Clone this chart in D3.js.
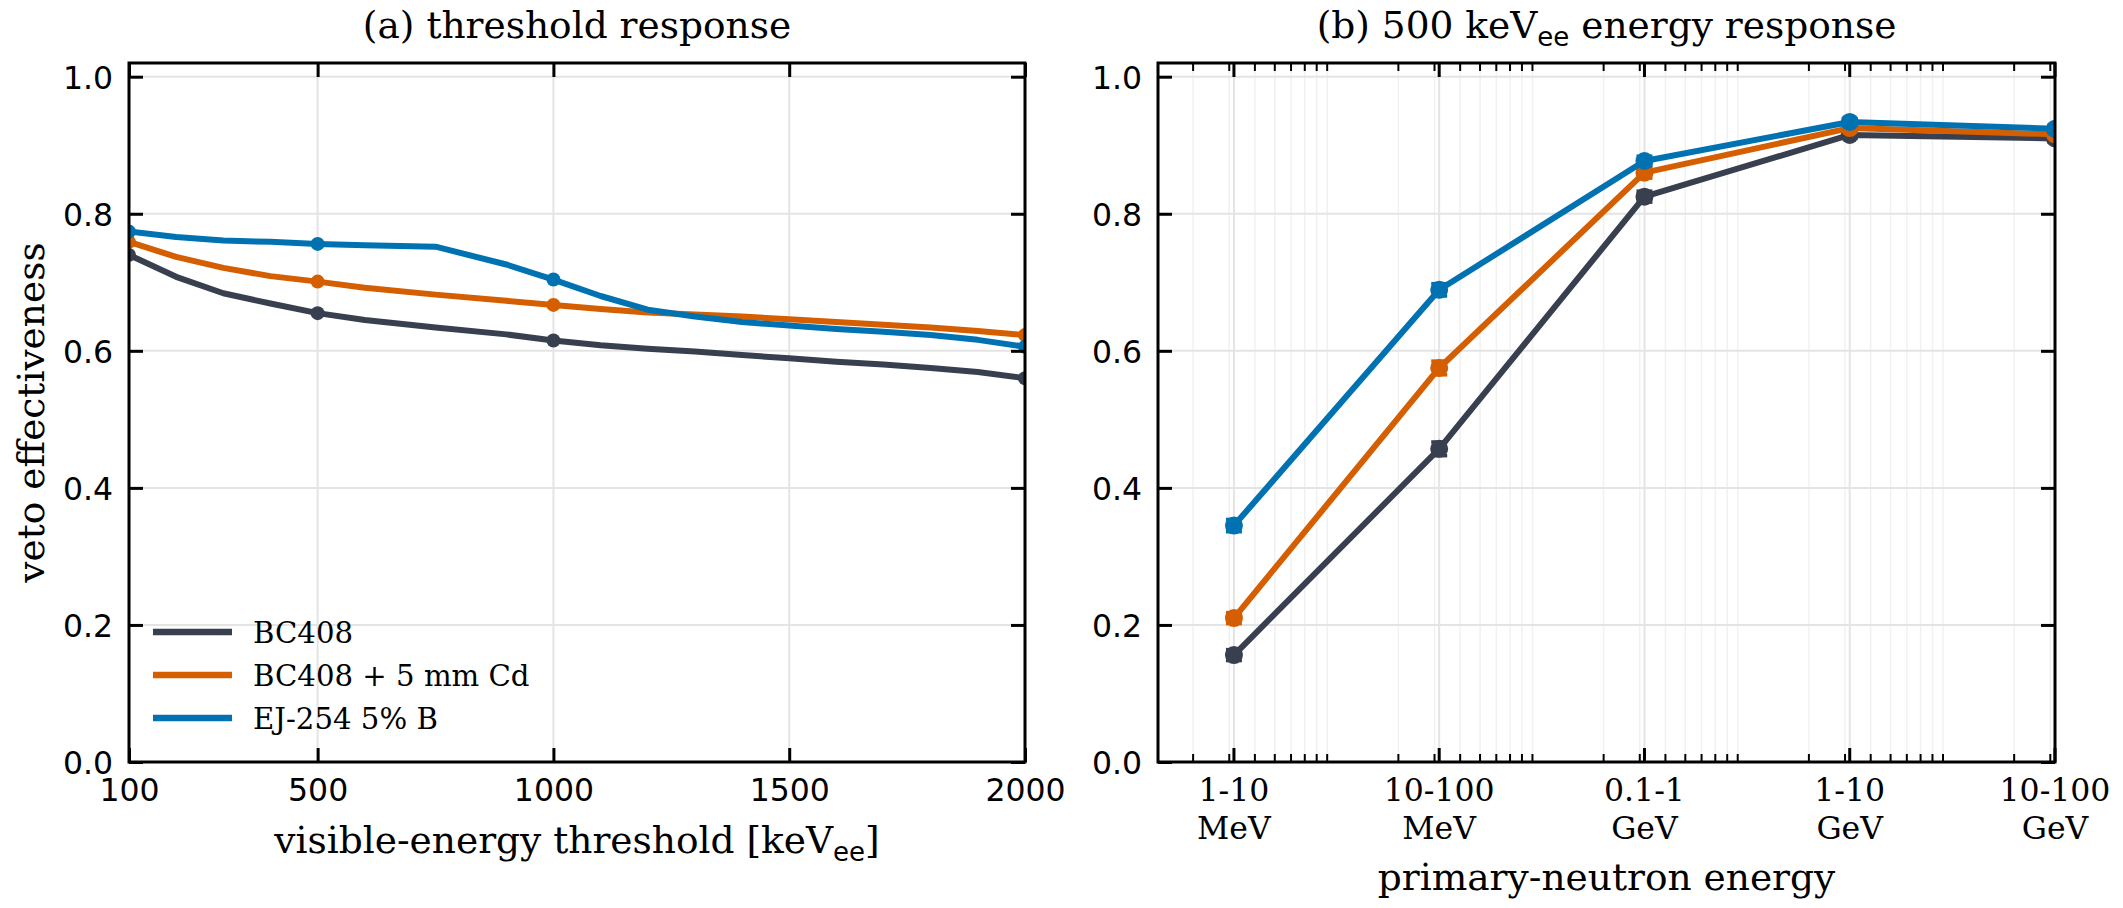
<!DOCTYPE html>
<html>
<head>
<meta charset="utf-8">
<script src="https://cdn.jsdelivr.net/npm/d3@7"></script>
<style>
  body { margin: 0; background: #fff; }
  svg text { font-family: "DejaVu Serif", serif; fill: #000; }
  svg text.num, svg tspan.num { font-family: "DejaVu Sans", sans-serif; }
</style>
</head>
<body>
<svg id="fig" width="2123" height="908"></svg>
<script>
// (a) threshold response, veto effectiveness vs visible-energy threshold [keVee]
var thresholds = [100, 200, 300, 400, 500, 600, 750, 900, 1000, 1100, 1200, 1300, 1400, 1500, 1600, 1700, 1800, 1900, 2000];
var bc408 =   [0.740, 0.708, 0.684, 0.669, 0.655, 0.645, 0.634, 0.624, 0.615, 0.608, 0.603, 0.599, 0.594, 0.589, 0.584, 0.580, 0.575, 0.569, 0.560];
var bc408Cd = [0.759, 0.737, 0.721, 0.709, 0.701, 0.692, 0.682, 0.673, 0.667, 0.661, 0.656, 0.653, 0.650, 0.646, 0.642, 0.638, 0.634, 0.629, 0.623];
var ej254 =   [0.774, 0.766, 0.761, 0.759, 0.756, 0.754, 0.752, 0.726, 0.704, 0.680, 0.660, 0.650, 0.642, 0.637, 0.632, 0.628, 0.623, 0.616, 0.606];
var markedThresholds = [100, 500, 1000, 2000];
var thresholdTicks = [100, 500, 1000, 1500, 2000];

// (b) 500 keVee energy response, per primary-neutron energy bin
var energyLabels = [["1-10", "MeV"], ["10-100", "MeV"], ["0.1-1", "GeV"], ["1-10", "GeV"], ["10-100", "GeV"]];
var energyCenters = [3.162, 31.62, 316.2, 3162, 31623]; // MeV, bin centres (log)
var bc408E =   [0.156, 0.457, 0.825, 0.915, 0.910];
var bc408CdE = [0.210, 0.575, 0.860, 0.925, 0.916];
var ej254E =   [0.345, 0.689, 0.877, 0.934, 0.924];
var bc408Err =   [0.008, 0.010, 0.008, 0.005, 0.005];
var bc408CdErr = [0.008, 0.010, 0.008, 0.005, 0.005];
var ej254Err =   [0.009, 0.009, 0.007, 0.005, 0.005];

var seriesNames = ["BC408", "BC408 + 5 mm Cd", "EJ-254 5% B"];
var colors = ["#383f4f", "#d55e00", "#0072b2"];
var yTicks = [0.0, 0.2, 0.4, 0.6, 0.8, 1.0];

var svg = d3.select("#fig");
var top_ = 63, bottom = 762;
var tickFont = 31.5, labelFont = 37.5, legendFont = 29.2;

var y = d3.scaleLinear().domain([0, 1.02]).range([bottom, top_]);

function frame(g, x0, x1, id) {
    g.append("clipPath").attr("id", id)
        .append("rect").attr("x", x0).attr("y", top_).attr("width", x1 - x0).attr("height", bottom - top_);
}

function hgrid(g, x0, x1) {
    g.append("g").selectAll("line").data(yTicks).enter().append("line")
        .attr("x1", x0).attr("x2", x1)
        .attr("y1", d => y(d)).attr("y2", d => y(d))
        .attr("stroke", "#e4e4e4").attr("stroke-width", 2);
}

function yAxes(g, x0, x1) {
    var left = d3.axisLeft(y).tickValues(yTicks).tickFormat(d3.format(".1f"))
        .tickSizeInner(-14).tickSizeOuter(0).tickPadding(16);
    var la = g.append("g").attr("transform", "translate(" + x0 + ",0)").call(left);
    la.select(".domain").remove();
    la.selectAll("line").attr("stroke", "#000").attr("stroke-width", 3);
    la.selectAll("text").attr("class", "num").style("font-size", tickFont + "px").attr("dy", "0.36em");
    var right = d3.axisRight(y).tickValues(yTicks).tickFormat("")
        .tickSizeInner(-14).tickSizeOuter(0);
    var ra = g.append("g").attr("transform", "translate(" + x1 + ",0)").call(right);
    ra.select(".domain").remove();
    ra.selectAll("line").attr("stroke", "#000").attr("stroke-width", 3);
}

function spines(g, x0, x1) {
    g.append("rect").attr("x", x0).attr("y", top_).attr("width", x1 - x0).attr("height", bottom - top_)
        .attr("fill", "none").attr("stroke", "#000").attr("stroke-width", 3);
}

function subLabel(t, before, sub, after) {
    t.append("tspan").text(before);
    t.append("tspan").attr("class", "num").text(sub).attr("dy", 8).style("font-size", "26px");
    t.append("tspan").text(after).attr("dy", -8);
}

// ---------------- panel (a)
var ax0 = 129, ax1 = 1025;
var xa = d3.scaleLinear().domain([100, 2000]).range([ax0, ax1]);
var ga = svg.append("g");
frame(ga, ax0, ax1, "clipA");
hgrid(ga, ax0, ax1);
ga.append("g").selectAll("line").data(thresholdTicks).enter().append("line")
    .attr("x1", d => xa(d)).attr("x2", d => xa(d)).attr("y1", top_).attr("y2", bottom)
    .attr("stroke", "#e4e4e4").attr("stroke-width", 2);

var seriesA = [bc408, bc408Cd, ej254];
var plotA = ga.append("g").attr("clip-path", "url(#clipA)");
seriesA.forEach(function (vals, i) {
    var pts = thresholds.map((t, k) => [t, vals[k]]);
    plotA.append("path")
        .attr("d", d3.line().x(d => xa(d[0])).y(d => y(d[1]))(pts))
        .attr("fill", "none").attr("stroke", colors[i]).attr("stroke-width", 6)
        .attr("stroke-linejoin", "round");
    plotA.append("g").selectAll("circle")
        .data(pts.filter(d => markedThresholds.indexOf(d[0]) >= 0)).enter()
        .append("circle").attr("cx", d => xa(d[0])).attr("cy", d => y(d[1])).attr("r", 7)
        .attr("fill", colors[i]);
});

spines(ga, ax0, ax1);
yAxes(ga, ax0, ax1);
var xaB = d3.axisBottom(xa).tickValues(thresholdTicks).tickFormat(d3.format("d"))
    .tickSizeInner(-14).tickSizeOuter(0).tickPadding(16);
var gxa = ga.append("g").attr("transform", "translate(0," + bottom + ")").call(xaB);
gxa.select(".domain").remove();
gxa.selectAll("line").attr("stroke", "#000").attr("stroke-width", 3);
gxa.selectAll("text").attr("class", "num").style("font-size", tickFont + "px").attr("dy", "0.73em");
var xaT = d3.axisTop(xa).tickValues(thresholdTicks).tickFormat("").tickSizeInner(-14).tickSizeOuter(0);
var gxat = ga.append("g").attr("transform", "translate(0," + top_ + ")").call(xaT);
gxat.select(".domain").remove();
gxat.selectAll("line").attr("stroke", "#000").attr("stroke-width", 3);

ga.append("text").attr("x", (ax0 + ax1) / 2).attr("y", 38).attr("text-anchor", "middle")
    .style("font-size", labelFont + "px").text("(a) threshold response");

ga.append("text").attr("x", (ax0 + ax1) / 2).attr("y", 853).attr("text-anchor", "middle")
    .style("font-size", labelFont + "px")
    .call(subLabel, "visible-energy threshold [keV", "ee", "]");

ga.append("text").attr("transform", "translate(44," + (top_ + bottom) / 2 + ") rotate(-90)")
    .attr("text-anchor", "middle").style("font-size", labelFont + "px").text("veto effectiveness");

// legend
var legY = [632, 675, 718];
var leg = ga.append("g");
seriesNames.forEach(function (n, i) {
    leg.append("line").attr("x1", 153).attr("x2", 232).attr("y1", legY[i]).attr("y2", legY[i])
        .attr("stroke", colors[i]).attr("stroke-width", 6.5);
    leg.append("text").attr("x", 253).attr("y", legY[i]).attr("dy", "0.36em")
        .style("font-size", legendFont + "px").text(n);
});

// ---------------- panel (b)
var bx0 = 1158, bx1 = 2055;
var xb = d3.scaleLog().domain([Math.pow(10, 0.13), 31623]).range([bx0, bx1]);
var gb = svg.append("g");
frame(gb, bx0, bx1, "clipB");

var minorTicks = xb.ticks().filter(function (t) {
    var lead = Math.round(t / Math.pow(10, Math.floor(Math.log10(t) + 1e-9)));
    return lead !== 1;
});
gb.append("g").selectAll("line").data(minorTicks).enter().append("line")
    .attr("x1", d => xb(d)).attr("x2", d => xb(d)).attr("y1", top_).attr("y2", bottom)
    .attr("stroke", "#f1f1f1").attr("stroke-width", 1.5);
hgrid(gb, bx0, bx1);
gb.append("g").selectAll("line").data(energyCenters).enter().append("line")
    .attr("x1", d => xb(d)).attr("x2", d => xb(d)).attr("y1", top_).attr("y2", bottom)
    .attr("stroke", "#e4e4e4").attr("stroke-width", 2);

var seriesB = [bc408E, bc408CdE, ej254E];
var errB = [bc408Err, bc408CdErr, ej254Err];
var plotB = gb.append("g").attr("clip-path", "url(#clipB)");
seriesB.forEach(function (vals, i) {
    var pts = energyCenters.map((e, k) => [e, vals[k], errB[i][k]]);
    plotB.append("path")
        .attr("d", d3.line().x(d => xb(d[0])).y(d => y(d[1]))(pts))
        .attr("fill", "none").attr("stroke", colors[i]).attr("stroke-width", 6)
        .attr("stroke-linejoin", "round");
    var eb = plotB.append("g").selectAll("g").data(pts).enter().append("g")
        .attr("stroke", colors[i]).attr("stroke-width", 3.5);
    eb.append("line").attr("x1", d => xb(d[0])).attr("x2", d => xb(d[0]))
        .attr("y1", d => y(d[1] - d[2])).attr("y2", d => y(d[1] + d[2]));
    eb.append("line").attr("x1", d => xb(d[0]) - 8).attr("x2", d => xb(d[0]) + 8)
        .attr("y1", d => y(d[1] - d[2])).attr("y2", d => y(d[1] - d[2]));
    eb.append("line").attr("x1", d => xb(d[0]) - 8).attr("x2", d => xb(d[0]) + 8)
        .attr("y1", d => y(d[1] + d[2])).attr("y2", d => y(d[1] + d[2]));
    plotB.append("g").selectAll("circle").data(pts).enter().append("circle")
        .attr("cx", d => xb(d[0])).attr("cy", d => y(d[1])).attr("r", 9)
        .attr("fill", colors[i]);
});

spines(gb, bx0, bx1);
yAxes(gb, bx0, bx1);
[[bottom, -1], [top_, 1]].forEach(function (s) {
    var g = gb.append("g");
    g.selectAll("line.maj").data(energyCenters).enter().append("line")
        .attr("x1", d => xb(d)).attr("x2", d => xb(d))
        .attr("y1", s[0]).attr("y2", s[0] + s[1] * 14)
        .attr("stroke", "#000").attr("stroke-width", 3);
    g.selectAll("line.min").data(minorTicks).enter().append("line")
        .attr("x1", d => xb(d)).attr("x2", d => xb(d))
        .attr("y1", s[0]).attr("y2", s[0] + s[1] * 8)
        .attr("stroke", "#000").attr("stroke-width", 2);
});
var xbl = gb.append("g").selectAll("text").data(energyCenters).enter().append("text")
    .attr("x", d => xb(d)).attr("y", 801).attr("text-anchor", "middle")
    .style("font-size", tickFont + "px");
xbl.append("tspan").attr("x", d => xb(d)).text((d, k) => energyLabels[k][0]);
xbl.append("tspan").attr("x", d => xb(d)).attr("dy", 38).text((d, k) => energyLabels[k][1]);

gb.append("text").attr("x", (bx0 + bx1) / 2).attr("y", 38).attr("text-anchor", "middle")
    .style("font-size", labelFont + "px")
    .call(subLabel, "(b) 500 keV", "ee", " energy response");

gb.append("text").attr("x", (bx0 + bx1) / 2).attr("y", 890).attr("text-anchor", "middle")
    .style("font-size", labelFont + "px").text("primary-neutron energy");
</script>
</body>
</html>
